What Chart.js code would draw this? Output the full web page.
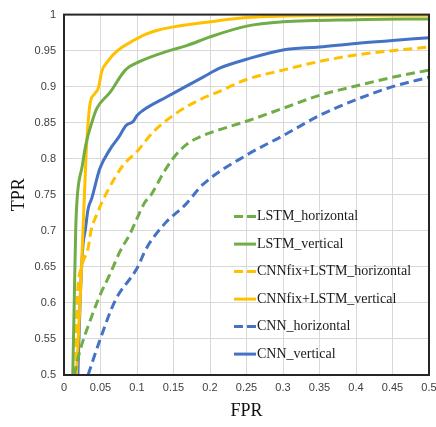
<!DOCTYPE html>
<html>
<head>
<meta charset="utf-8">
<script src="https://cdn.jsdelivr.net/npm/chart.js@4.4.0/dist/chart.umd.min.js"></script>
<style>
  html, body { margin: 0; padding: 0; background: #fff; }
  #wrap { width: 436px; height: 427px; }
</style>
</head>
<body>
<div id="wrap"><canvas id="roc" width="436" height="427"></canvas></div>
<script>
// ROC curves, FPR (x) vs TPR (y)
const lstmHorFpr = [0.014, 0.022, 0.036, 0.049, 0.063, 0.077, 0.09, 0.111, 0.118, 0.136, 0.149, 0.168, 0.19, 0.2, 0.25, 0.3, 0.35, 0.4, 0.45, 0.5];
const lstmHorTpr = [0.5, 0.534, 0.576, 0.61, 0.64, 0.672, 0.695, 0.74, 0.748, 0.78, 0.8, 0.82, 0.832, 0.836, 0.852, 0.87, 0.888, 0.901, 0.913, 0.923];

const lstmVerFpr = [0.012, 0.014, 0.016, 0.018, 0.025, 0.03, 0.038, 0.045, 0.063, 0.084, 0.104, 0.141, 0.168, 0.2, 0.25, 0.3, 0.4, 0.5];
const lstmVerTpr = [0.5, 0.6, 0.7, 0.745, 0.79, 0.82, 0.85, 0.87, 0.892, 0.923, 0.935, 0.949, 0.957, 0.969, 0.984, 0.99, 0.993, 0.994];

const fixHorFpr = [0.016, 0.018, 0.024, 0.033, 0.037, 0.045, 0.059, 0.081, 0.1, 0.122, 0.155, 0.186, 0.214, 0.25, 0.3, 0.35, 0.4, 0.45, 0.5];
const fixHorTpr = [0.5, 0.6, 0.65, 0.676, 0.7, 0.723, 0.754, 0.791, 0.81, 0.837, 0.864, 0.882, 0.894, 0.91, 0.923, 0.935, 0.944, 0.95, 0.955];

const fixVerFpr = [0.017, 0.022, 0.026, 0.03, 0.033, 0.036, 0.042, 0.047, 0.052, 0.06, 0.067, 0.08, 0.095, 0.11, 0.127, 0.15, 0.2, 0.25, 0.3, 0.4, 0.5];
const fixVerTpr = [0.5, 0.6, 0.7, 0.8, 0.85, 0.878, 0.89, 0.898, 0.922, 0.935, 0.944, 0.955, 0.964, 0.972, 0.978, 0.983, 0.99, 0.996, 0.998, 0.999, 0.999];

const cnnHorFpr = [0.033, 0.049, 0.07, 0.1, 0.113, 0.138, 0.166, 0.19, 0.25, 0.3, 0.35, 0.4, 0.45, 0.5];
const cnnHorTpr = [0.5, 0.548, 0.603, 0.648, 0.676, 0.71, 0.736, 0.764, 0.805, 0.832, 0.86, 0.882, 0.9, 0.913];

const cnnVerFpr = [0.019, 0.022, 0.026, 0.029, 0.033, 0.038, 0.049, 0.063, 0.075, 0.085, 0.095, 0.1, 0.108, 0.141, 0.19, 0.214, 0.25, 0.3, 0.35, 0.4, 0.45, 0.5];
const cnnVerTpr = [0.5, 0.6, 0.68, 0.7, 0.73, 0.745, 0.786, 0.813, 0.83, 0.846, 0.852, 0.86, 0.867, 0.886, 0.913, 0.926, 0.938, 0.951, 0.955, 0.96, 0.964, 0.968];

const seriesNames = ['LSTM_horizontal', 'LSTM_vertical', 'CNNfix+LSTM_horizontal', 'CNNfix+LSTM_vertical', 'CNN_horizontal', 'CNN_vertical'];

const GREEN = '#70AD47', YELLOW = '#FFC000', BLUE = '#4472C4';
const DASH = [9, 5];

function pts(xs, ys) {
    return xs.map((x, i) => ({ x: x, y: ys[i] }));
}

function makeSet(label, xs, ys, color, dashed) {
    return {
        label: label,
        data: pts(xs, ys),
        borderColor: color,
        backgroundColor: color,
        borderWidth: 3,
        borderDash: dashed ? DASH : [],
        showLine: true,
        pointRadius: 0,
        cubicInterpolationMode: 'monotone',
        fill: false
    };
}

// legend drawn inside the plot, lower right, like the original
const insideLegend = {
    id: 'insideLegend',
    afterDraw(chart) {
        const ctx = chart.ctx;
        const area = chart.chartArea;
        const x0 = area.left + 170;
        let y = area.top + 202;
        ctx.save();
        ctx.font = '14px "Liberation Serif", "Times New Roman", serif';
        ctx.textBaseline = 'middle';
        ctx.fillStyle = '#1a1a1a';
        chart.data.datasets.forEach(ds => {
            ctx.strokeStyle = ds.borderColor;
            ctx.lineWidth = 3;
            ctx.setLineDash(ds.borderDash.length ? [9, 4] : []);
            ctx.beginPath();
            ctx.moveTo(x0, y);
            ctx.lineTo(x0 + 22, y);
            ctx.stroke();
            ctx.setLineDash([]);
            ctx.fillText(ds.label, x0 + 23, y);
            y += 27.5;
        });
        ctx.restore();
    }
};

// frame around the plot area
const frame = {
    id: 'frame',
    afterDatasetsDraw(chart) {
        const a = chart.chartArea;
        const ctx = chart.ctx;
        ctx.save();
        ctx.strokeStyle = '#262626';
        ctx.lineWidth = 2;
        ctx.strokeRect(a.left, a.top, a.right - a.left, a.bottom - a.top);
        ctx.restore();
    }
};

const tickFont = { family: '"Liberation Sans", Arial, sans-serif', size: 11 };
const titleFont = { family: '"Liberation Serif", "Times New Roman", serif', size: 18 };

new Chart(document.getElementById('roc'), {
    type: 'scatter',
    data: {
        datasets: [
            makeSet(seriesNames[0], lstmHorFpr, lstmHorTpr, GREEN, true),
            makeSet(seriesNames[1], lstmVerFpr, lstmVerTpr, GREEN, false),
            makeSet(seriesNames[2], fixHorFpr, fixHorTpr, YELLOW, true),
            makeSet(seriesNames[3], fixVerFpr, fixVerTpr, YELLOW, false),
            makeSet(seriesNames[4], cnnHorFpr, cnnHorTpr, BLUE, true),
            makeSet(seriesNames[5], cnnVerFpr, cnnVerTpr, BLUE, false)
        ]
    },
    options: {
        responsive: false,
        animation: false,
        layout: { padding: { top: 11, right: 7, left: 2, bottom: 0 } },
        plugins: {
            legend: { display: false },
            tooltip: { enabled: false }
        },
        scales: {
            x: {
                type: 'linear',
                min: 0,
                max: 0.5,
                afterFit: s => {
                    s.height = 52;
                    s.paddingRight = 0;
                    s.paddingLeft = 0;
                },
                ticks: {
                    stepSize: 0.05,
                    color: '#404040',
                    font: tickFont,
                    padding: 6,
                    callback: v => String(+v.toFixed(2))
                },
                grid: { color: '#d9d9d9', lineWidth: 1, drawTicks: false },
                border: { display: false },
                title: {
                    display: true,
                    text: 'FPR',
                    color: '#111',
                    font: titleFont,
                    padding: { top: 0, bottom: 5 }
                }
            },
            y: {
                type: 'linear',
                min: 0.5,
                max: 1,
                afterFit: s => { s.width = 62; },
                ticks: {
                    stepSize: 0.05,
                    color: '#404040',
                    font: tickFont,
                    padding: 8,
                    callback: v => String(+v.toFixed(2))
                },
                grid: { color: '#d9d9d9', lineWidth: 1, drawTicks: false },
                border: { display: false },
                title: {
                    display: true,
                    text: 'TPR',
                    color: '#111',
                    font: titleFont,
                    padding: { top: 6, bottom: 0 }
                }
            }
        }
    },
    plugins: [frame, insideLegend]
});
</script>
</body>
</html>
